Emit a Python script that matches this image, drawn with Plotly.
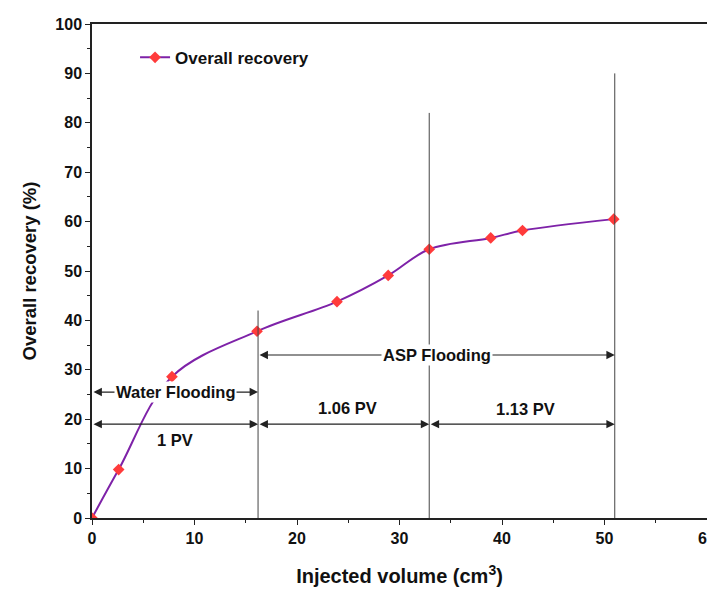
import plotly.graph_objects as go

# Data
injected_volume = [0, 2.6, 7.8, 16.1, 23.9, 28.9, 32.9, 38.9, 42.0, 50.9]
overall_recovery = [0, 9.8, 28.6, 37.8, 43.8, 49.1, 54.4, 56.7, 58.2, 60.5]

# stage boundaries (injected volume) and vertical line heights
boundaries = [16.2, 32.9, 51.0]
boundary_heights = [42, 82, 90]

FONT = "Liberation Sans, Arial, sans-serif"

fig = go.Figure()
fig.add_trace(go.Scatter(
    x=injected_volume, y=overall_recovery, mode="lines+markers",
    name="Overall recovery",
    line=dict(color="#7E22A8", width=2, shape="spline"),
    marker=dict(symbol="diamond", color="#FF3B3B", size=9),
))

# vertical boundary lines
for bx, bh in zip(boundaries, boundary_heights):
    fig.add_shape(type="line", x0=bx, x1=bx, y0=0, y1=bh, xref="x", yref="y",
                  line=dict(color="#444444", width=1))

def harrow(x0, x1, y):
    fig.add_annotation(x=x1, y=y, ax=x0, ay=y, xref="x", yref="y", axref="x", ayref="y",
                       text="", showarrow=True, arrowhead=2, arrowside="end+start",
                       arrowsize=1.4, arrowwidth=1.2, arrowcolor="#222222", standoff=0, startstandoff=0)

harrow(0, boundaries[0], 25.5)
harrow(0, boundaries[0], 19)
harrow(boundaries[0], boundaries[2], 33)
harrow(boundaries[0], boundaries[1], 19)
harrow(boundaries[1], boundaries[2], 19)

def label(x, y, t, bg=None):
    fig.add_annotation(x=x, y=y, xref="x", yref="y", text=t, showarrow=False,
                       font=dict(family=FONT, size=16.5, color="#111111", weight="bold"),
                       bgcolor=bg if bg else "rgba(0,0,0,0)", borderpad=1)

label(8.1, 25.5, "Water Flooding", "white")
label(8.1, 15.8, "1 PV")
label(33.7, 33, "ASP Flooding", "white")
label(24.9, 22.3, "1.06 PV")
label(42.3, 22.0, "1.13 PV")

axis_common = dict(
    showline=True, linecolor="#222222", linewidth=1.5, mirror=True,
    ticks="outside", ticklen=5, tickwidth=1.2, tickcolor="#222222",
    showgrid=False, zeroline=False, automargin=False, ticklabeloverflow="allow",
    tickfont=dict(family=FONT, size=16, color="#111111", weight="bold"),
    minor=dict(ticks="outside", ticklen=3, tickwidth=1.2, tickcolor="#222222"),
)

fig.update_layout(
    width=707, height=582,
    margin=dict(l=84, r=8, t=16, b=72),
    paper_bgcolor="white", plot_bgcolor="white",
    xaxis=dict(range=[0, 60], dtick=10, minor_dtick=5,
               title=dict(text="Injected volume (cm<sup>3</sup>)", standoff=23,
                          font=dict(family=FONT, size=20, color="#111111", weight="bold")),
               **axis_common),
    yaxis=dict(range=[0, 100], dtick=10, minor_dtick=5,
               title=dict(text="Overall recovery (%)", standoff=14,
                          font=dict(family=FONT, size=18.5, color="#111111", weight="bold")),
               **axis_common),
    showlegend=True,
    legend=dict(x=0.07, y=0.968, xanchor="left", yanchor="top", bgcolor="rgba(0,0,0,0)",
                font=dict(family=FONT, size=17, color="#111111", weight="bold")),
)

fig.write_html("out.html")
